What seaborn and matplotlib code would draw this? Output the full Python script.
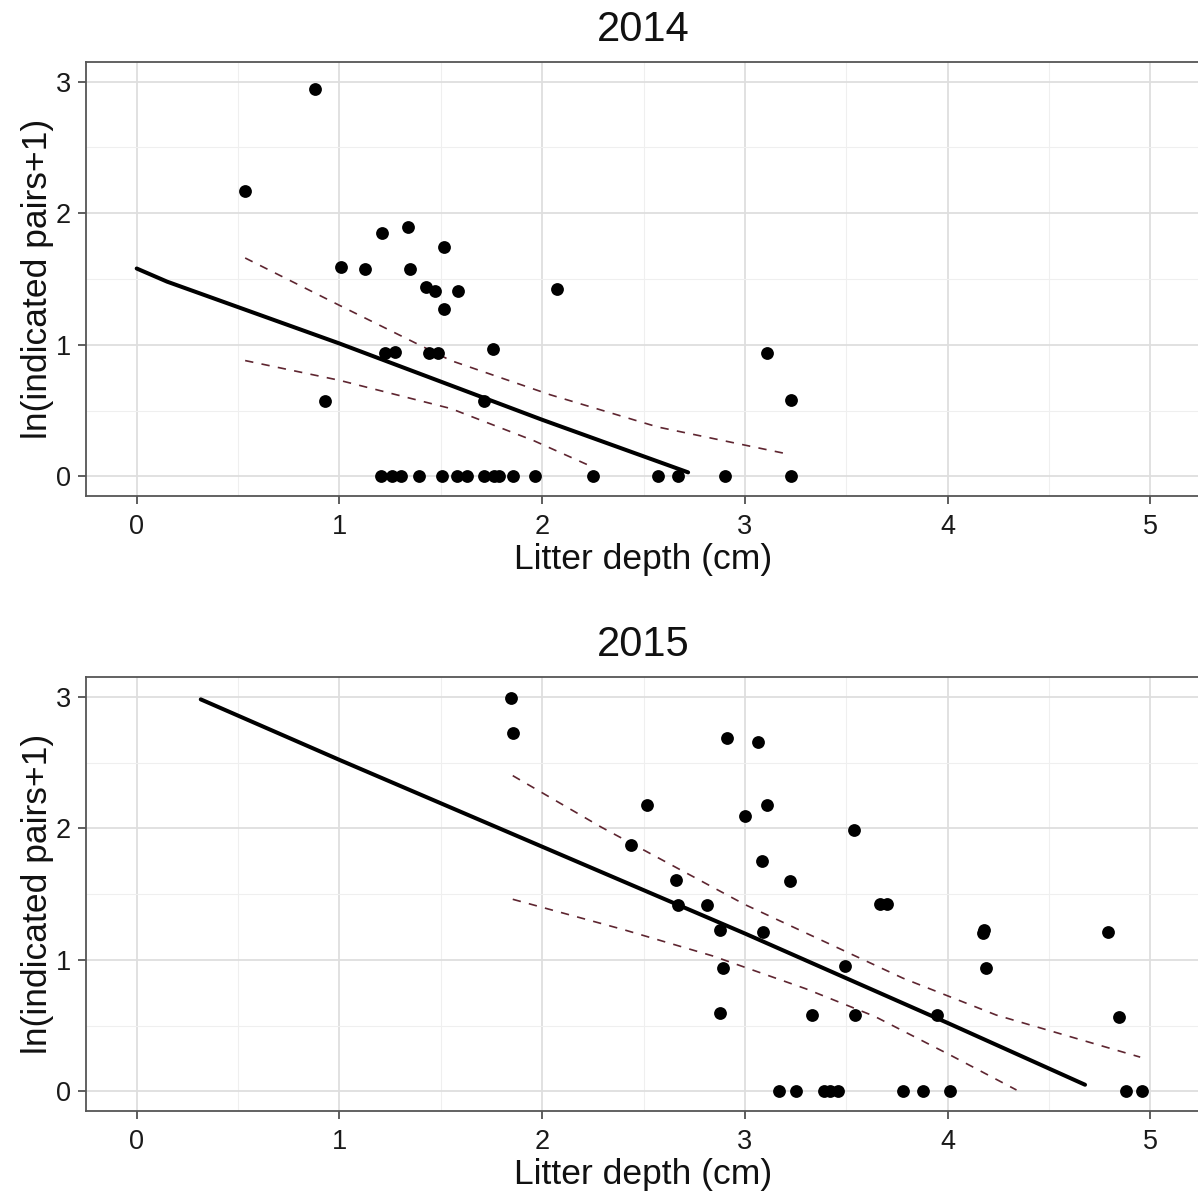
import numpy as np
import pandas as pd
import matplotlib
matplotlib.use('Agg')
import matplotlib.pyplot as plt
import seaborn as sns
from matplotlib.ticker import MultipleLocator

#%% data
# 2014
depth_2014 = [0.535, 0.879, 0.931, 1.010, 1.127, 1.208, 1.340, 1.350, 1.516, 1.427,
              1.473, 1.583, 1.516, 1.226, 1.272, 1.440, 1.484, 1.758, 1.712, 2.074,
              3.111, 3.230,
              1.205, 1.259, 1.304, 1.394, 1.504, 1.578, 1.630, 1.715, 1.764, 1.789,
              1.855, 1.965, 2.250, 2.571, 2.670, 2.900, 3.230]
pairs_2014 = [2.170, 2.947, 0.576, 1.591, 1.574, 1.848, 1.898, 1.574, 1.744, 1.437,
              1.409, 1.409, 1.272, 0.934, 0.947, 0.939, 0.934, 0.965, 0.576, 1.421,
              0.934, 0.579,
              0, 0, 0, 0, 0, 0, 0, 0, 0, 0,
              0, 0, 0, 0, 0, 0, 0]
fit_x_2014 = [0.0, 0.15, 1.0, 2.0, 2.72]
fit_y_2014 = [1.58, 1.48, 1.01, 0.43, 0.03]
upr_x_2014 = [0.535, 1.0, 1.55, 2.04, 2.57, 3.21]
upr_y_2014 = [1.66, 1.30, 0.88, 0.62, 0.375, 0.17]
lwr_x_2014 = [0.535, 1.0, 1.55, 1.96, 2.25]
lwr_y_2014 = [0.88, 0.73, 0.515, 0.27, 0.07]

# 2015
depth_2015 = [1.847, 1.855, 2.519, 2.440, 2.662, 2.672, 2.813, 2.879, 2.892, 2.879,
              2.912, 3.067, 3.000, 3.111, 3.086, 3.221, 3.089, 3.539, 3.496, 3.331,
              3.542, 3.666, 3.699, 4.176, 4.180, 4.188, 4.793, 4.847, 3.946,
              3.167, 3.254, 3.391, 3.419, 3.460, 3.781, 3.879, 4.011, 4.880, 4.959]
pairs_2015 = [2.992, 2.723, 2.178, 1.873, 1.603, 1.415, 1.415, 1.229, 0.937, 0.598,
              2.685, 2.654, 2.094, 2.178, 1.753, 1.601, 1.208, 1.990, 0.956, 0.580,
              0.580, 1.427, 1.427, 1.200, 1.230, 0.937, 1.208, 0.563, 0.580,
              0, 0, 0, 0, 0, 0, 0, 0, 0, 0]
fit_x_2015 = [0.316, 1.0, 2.0, 3.0, 4.0, 4.678]
fit_y_2015 = [2.98, 2.52, 1.86, 1.20, 0.52, 0.05]
upr_x_2015 = [1.855, 2.29, 3.0, 3.78, 4.24, 4.95]
upr_y_2015 = [2.40, 2.01, 1.42, 0.86, 0.58, 0.26]
lwr_x_2015 = [1.855, 2.4, 2.84, 3.3, 3.64, 4.02, 4.34]
lwr_y_2015 = [1.46, 1.23, 1.03, 0.78, 0.57, 0.27, 0.01]

#%% style
sns.set_theme(style='white')
plt.rcParams['font.family'] = ['Liberation Sans', 'DejaVu Sans']

fig = plt.figure(figsize=(11.98, 12.04), dpi=100)
ax_top = fig.add_axes([0.0718, 0.588, 0.9307, 0.3605])
ax_bot = fig.add_axes([0.0718, 0.0772, 0.9307, 0.3605])

panels = [
    (ax_top, '2014', depth_2014, pairs_2014, fit_x_2014, fit_y_2014,
     upr_x_2014, upr_y_2014, lwr_x_2014, lwr_y_2014),
    (ax_bot, '2015', depth_2015, pairs_2015, fit_x_2015, fit_y_2015,
     upr_x_2015, upr_y_2015, lwr_x_2015, lwr_y_2015),
]

ci_col = '#5e2530'

for ax, yr, dx, dy, fx, fy, ux, uy, lx, ly in panels:
    pts = pd.DataFrame({'depth': dx, 'lnpairs': dy})
    sns.lineplot(x=ux, y=uy, ax=ax, color=ci_col, lw=1.2, linestyle=(0, (5, 5)),
                 sort=False, estimator=None, zorder=3)
    sns.lineplot(x=lx, y=ly, ax=ax, color=ci_col, lw=1.2, linestyle=(0, (5, 5)),
                 sort=False, estimator=None, zorder=3)
    sns.lineplot(x=fx, y=fy, ax=ax, color='black', lw=2.9, sort=False,
                 estimator=None, zorder=4)
    sns.scatterplot(data=pts, x='depth', y='lnpairs', ax=ax, color='black',
                    s=85, linewidth=0, zorder=5)

    ax.set_xlim(-0.25, 5.25)
    ax.set_ylim(-0.15, 3.15)
    ax.xaxis.set_major_locator(MultipleLocator(1))
    ax.xaxis.set_minor_locator(MultipleLocator(0.5))
    ax.yaxis.set_major_locator(MultipleLocator(1))
    ax.yaxis.set_minor_locator(MultipleLocator(0.5))
    ax.grid(which='major', color='#dedede', lw=1.3)
    ax.grid(which='minor', color='#efefef', lw=0.8)
    ax.set_axisbelow(True)
    for sp in ax.spines.values():
        sp.set_color('#555555')
        sp.set_linewidth(1.3)
    ax.tick_params(which='major', direction='out', length=6, width=1.1,
                   color='#333333', labelcolor='#1a1a1a', labelsize=19.5,
                   bottom=True, left=True)
    ax.tick_params(axis='x', pad=7)
    ax.tick_params(axis='y', pad=5)
    ax.tick_params(which='minor', length=0)

    ax.set_title(yr, fontsize=30, pad=15, color='#111111')
    ax.set_xlabel('Litter depth (cm)', fontsize=25.5, labelpad=2, color='#111111')
    ax.set_ylabel('ln(indicated pairs+1)', fontsize=25.5, labelpad=1, color='#111111')

plt.savefig('out.png', dpi=100)
